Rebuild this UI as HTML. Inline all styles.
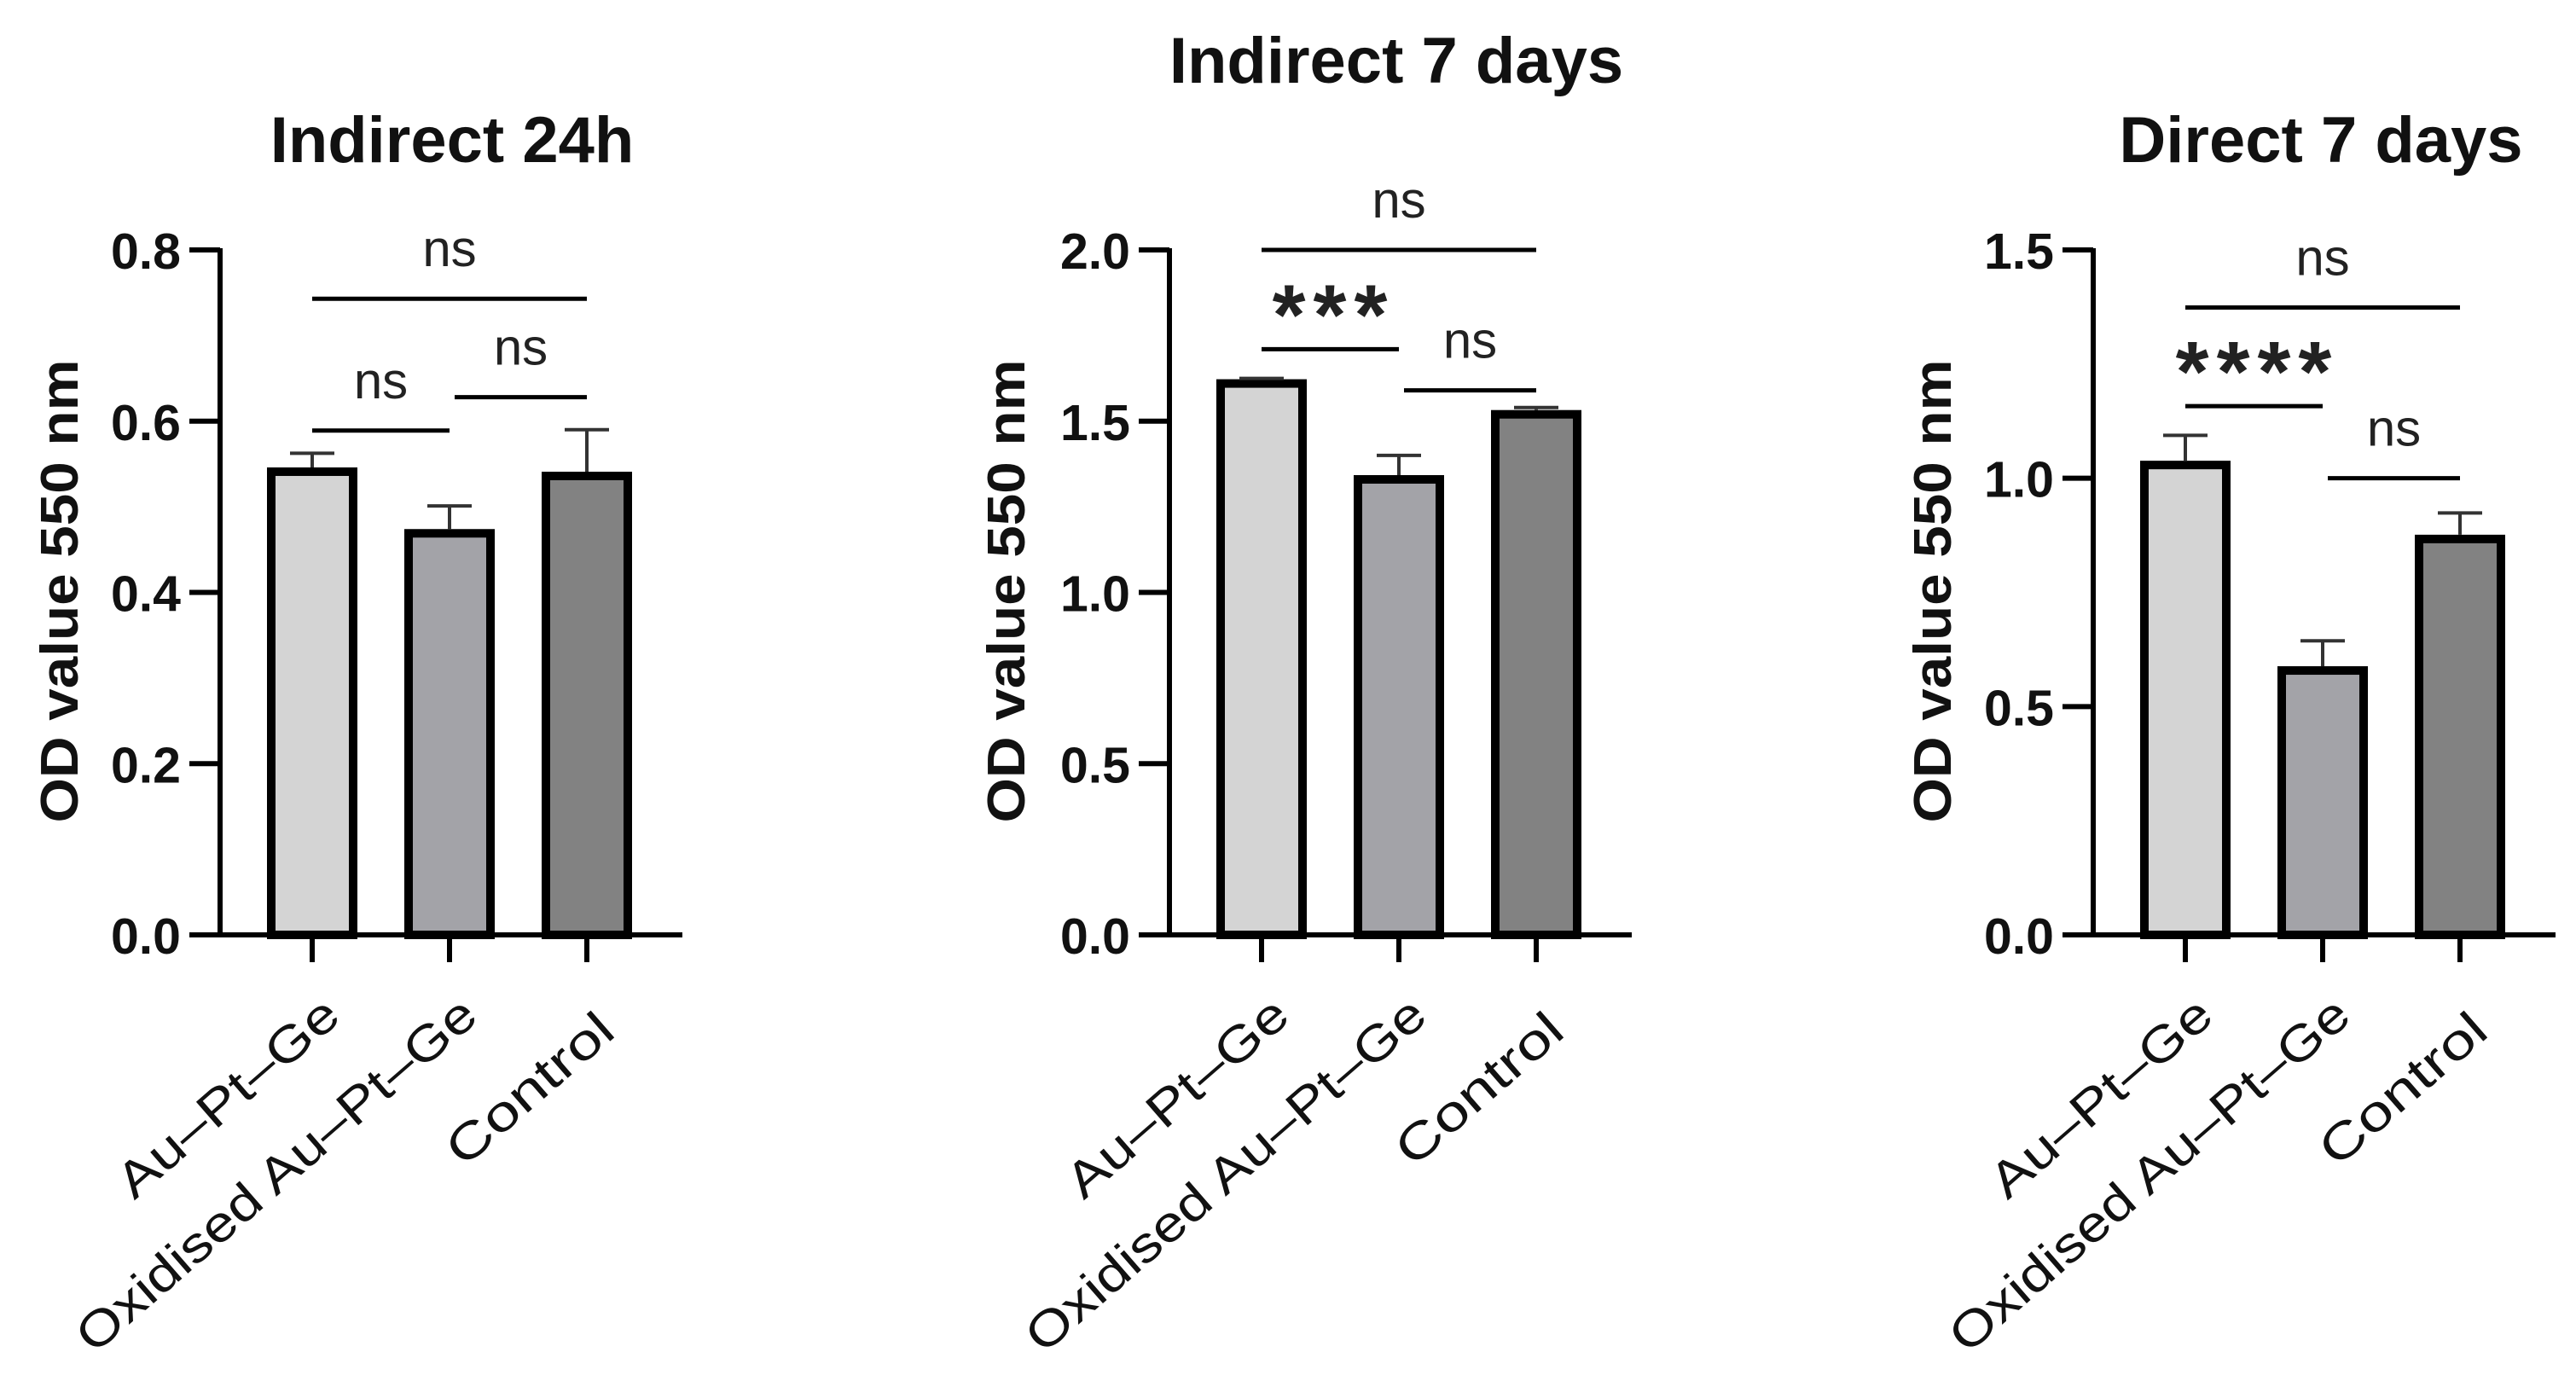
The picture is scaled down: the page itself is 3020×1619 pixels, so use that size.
<!DOCTYPE html>
<html><head><meta charset="utf-8"><style>
html,body{margin:0;padding:0;background:#fff;}
svg{display:block;}
</style></head><body>
<svg id="fig" width="3020" height="1619" viewBox="0 0 3020 1619" xmlns="http://www.w3.org/2000/svg"></svg>
<script>
const categories = ["Au–Pt–Ge", "Oxidised Au–Pt–Ge", "Control"];
const titles = ["Indirect 24h", "Indirect 7 days", "Direct 7 days"];
const means1 = [0.541, 0.469, 0.536];
const errs1 = [0.5625, 0.501, 0.590];
const means2 = [1.61, 1.33, 1.52];
const errs2 = [1.625, 1.40, 1.54];
const means3 = [1.029, 0.579, 0.867];
const errs3 = [1.094, 0.644, 0.924];
const ymax = [0.8, 2.0, 1.5];
const tickLabels1 = ["0.0", "0.2", "0.4", "0.6", "0.8"];
const tickLabels2 = ["0.0", "0.5", "1.0", "1.5", "2.0"];
const tickLabels3 = ["0.0", "0.5", "1.0", "1.5"];
const sigPairs = [[0, 2], [0, 1], [1, 2]];
const sigLevels1 = [0.743, 0.589, 0.628];
const sigLevels2 = [2.0, 1.71, 1.59];
const sigLevels3 = [1.374, 1.158, 1.0];
const sigText1 = ["ns", "ns", "ns"];
const sigText2 = ["ns", "***", "ns"];
const sigText3 = ["ns", "****", "ns"];

const NS = "http://www.w3.org/2000/svg";
const svg = document.getElementById("fig");
const colors = ["#d4d4d4", "#a3a3a8", "#828282"];
function mk(tag, attrs, parent) {
  const e = document.createElementNS(NS, tag);
  for (const k in attrs) e.setAttribute(k, attrs[k]);
  (parent || svg).appendChild(e);
  return e;
}
const panels = [
  {axisX: 258, title: [530, 190], means: means1, errs: errs1, ticks: tickLabels1, sig: sigLevels1, sigT: sigText1, yTitleX: 69},
  {axisX: 1371, title: [1637, 97], means: means2, errs: errs2, ticks: tickLabels2, sig: sigLevels2, sigT: sigText2, yTitleX: 1179},
  {axisX: 2454, title: [2721, 190], means: means3, errs: errs3, ticks: tickLabels3, sig: sigLevels3, sigT: sigText3, yTitleX: 2265}
];
const y0 = 1096, yTop = 293;
panels.forEach((p, pi) => {
  const g = mk("g", {});
  
  
  const ys = v => y0 - v / ymax[pi] * (y0 - yTop);
  const xs = i => p.axisX + 108 + i * 161;
  const t = mk("text", {x: p.title[0], y: p.title[1], "text-anchor": "middle", "font-family": "Liberation Sans, sans-serif", "font-weight": "bold", "font-size": 76, fill: "#111"}, g);
  t.textContent = titles[pi];
  
  
  const yt = mk("text", {x: 0, y: 0, transform: `translate(${p.yTitleX + 22},693) rotate(-90)`, "text-anchor": "middle", "font-family": "Liberation Sans Narrow, Liberation Sans, sans-serif", "font-weight": "bold", "font-size": 62, textLength: 543, lengthAdjust: "spacingAndGlyphs", fill: "#111"}, g);
  yt.textContent = "OD value 550 nm";
  
  
  p.means.forEach((m, i) => {
    const cx = xs(i);
    const r = mk("rect", {x: cx - 48, y: ys(m), width: 96, height: y0 - ys(m), fill: colors[i], stroke: "#000", "stroke-width": 10}, g);
    
    
    const e = mk("path", {d: `M${cx},${ys(m) - 5}V${ys(p.errs[i])}M${cx - 26},${ys(p.errs[i])}H${cx + 26}`, stroke: "#333", "stroke-width": 4, fill: "none"}, g);
    
    
  });
  const ax = mk("path", {d: `M${p.axisX},${yTop - 2}V${y0}M${p.axisX - 36},${y0}H${p.axisX + 542}`, stroke: "#000", "stroke-width": 6, fill: "none"}, g);
  
  
  p.ticks.forEach((lab, k) => {
    const v = k * ymax[pi] / (p.ticks.length - 1);
    const yy = ys(v);
    const tk = mk("line", {x1: p.axisX - 36, x2: p.axisX, y1: yy, y2: yy, stroke: "#000", "stroke-width": 6}, g);
    
    
    const tl = mk("text", {x: p.axisX - 46, y: yy + 22, "text-anchor": "end", "font-family": "Liberation Sans, sans-serif", "font-weight": "bold", "font-size": 59, fill: "#111"}, g);
    tl.textContent = lab;
    
    
  });
  categories.forEach((c, i) => {
    const cx = xs(i);
    const tk = mk("line", {x1: cx, x2: cx, y1: y0, y2: y0 + 32, stroke: "#000", "stroke-width": 6}, g);
    
    
    const lens = [324, 600, 239];
    const xl = mk("text", {x: 0, y: 0, transform: `translate(${cx + 36},${1195 + (i === 2 ? 18 : 0)}) rotate(-41)`, "text-anchor": "end", "font-family": "Liberation Sans, sans-serif", "font-size": 58, textLength: lens[i], lengthAdjust: "spacingAndGlyphs", fill: "#111"}, g);
    xl.textContent = c;
    
    
  });
  sigPairs.forEach((pr, k) => {
    const x1 = xs(pr[0]) + (k === 2 ? 6 : 0), x2 = xs(pr[1]);
    const yy = ys(p.sig[k]);
    const ln = mk("line", {x1: x1, x2: x2, y1: yy, y2: yy, stroke: "#000", "stroke-width": 5}, g);
    
    
    const lab = p.sigT[k];
    const isStar = lab.indexOf("*") >= 0;
    const st = mk("text", {x: (x1 + x2) / 2 + (isStar ? 4 : 0), y: isStar ? yy - 6 : yy - 38, "text-anchor": "middle", "font-family": "Liberation Sans, sans-serif", "font-size": isStar ? 100 : 60, "font-weight": isStar ? "bold" : "normal", "letter-spacing": isStar ? 9 : 0, fill: "#222"}, g);
    st.textContent = lab;
    
    
  });
});
</script>
</body></html>
